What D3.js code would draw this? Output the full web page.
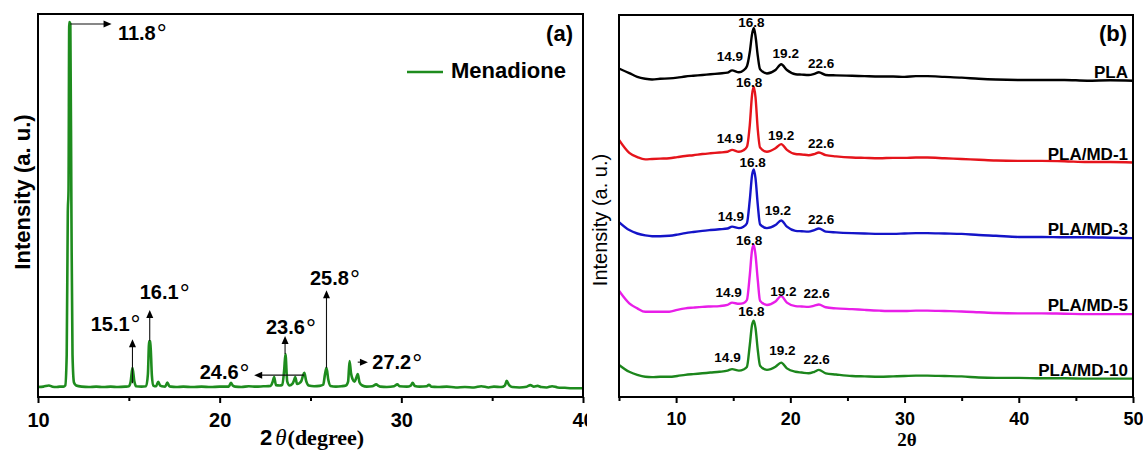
<!DOCTYPE html>
<html>
<head>
<meta charset="utf-8">
<script src="https://cdn.jsdelivr.net/npm/d3@7"></script>
<style>
  html, body { margin: 0; padding: 0; background: #fff; }
  svg { display: block; }
</style>
</head>
<body>
<svg id="chart" width="1143" height="451"></svg>
<script>
// ---------- Panel (a): menadione powder pattern ----------
const menadioneTheta = [
  10.0, 10.3, 10.6, 10.8, 11.0, 11.2, 11.4, 11.5, 11.58, 11.64, 11.68, 11.72, 11.78, 11.84, 11.9, 11.98, 12.1, 12.4,
  12.8, 13.2, 13.6, 14.0, 14.4, 14.8, 15.0, 15.1, 15.2, 15.3, 15.4, 15.7, 15.95, 16.05, 16.12, 16.18, 16.27, 16.35,
  16.5, 16.62, 16.72, 16.82, 17.0, 17.12, 17.22, 17.32, 17.6, 18.0, 18.5, 19.0, 19.5, 20.0, 20.5, 20.62, 20.72,
  20.85, 21.2, 21.6, 22.0, 22.4, 22.8, 22.92, 23.0, 23.1, 23.3, 23.45, 23.55, 23.62, 23.72, 23.85, 24.0, 24.08,
  24.16, 24.26, 24.38, 24.5, 24.58, 24.66, 24.76, 24.9, 25.2, 25.5, 25.7, 25.8, 25.88, 25.98, 26.1, 26.4, 26.7,
  26.95, 27.07, 27.15, 27.23, 27.32, 27.42, 27.52, 27.6, 27.7, 27.85, 28.1, 28.4, 28.62, 28.72, 28.85, 29.2,
  29.6, 29.78, 29.9, 30.3, 30.52, 30.62, 30.74, 31.0, 31.4, 31.52, 31.65, 32.0, 32.5, 33.0, 33.5, 34.0, 34.4,
  34.8, 35.1, 35.5, 35.7, 35.8, 35.92, 36.1, 36.5, 36.9, 37.1, 37.3, 37.5, 37.7, 38.0, 38.3, 38.6, 39.0, 39.4, 39.8, 40.0
];
const menadioneIntensity = [
  26, 27, 30, 27, 26, 27, 27, 30, 110, 480, 540, 979, 975, 480, 110, 38, 30, 27,
  26, 27, 26, 27, 26, 27, 28, 40, 76, 42, 28, 27, 28, 60, 146, 145, 55, 30,
  28, 40, 30, 28, 27, 38, 29, 27, 26, 27, 26, 27, 26, 27, 27, 37, 30,
  27, 26, 28, 27, 28, 29, 40, 52, 31, 30, 32, 70, 112, 40, 30, 34, 42,
  52, 34, 36, 42, 55, 63, 42, 30, 28, 29, 32, 60, 76, 45, 29, 27, 28,
  30, 40, 94, 62, 46, 40, 50, 60, 38, 30, 27, 28, 33, 30, 27, 26,
  28, 33, 28, 27, 30, 37, 29, 27, 28, 32, 27, 26, 27, 25, 26, 25, 28,
  25, 27, 26, 30, 42, 32, 26, 25, 27, 31, 27, 29, 26, 25, 28, 25, 24, 23, 23, 23
];

const thetaTicksA = [10, 15, 20, 25, 30, 35, 40];

// peak annotations: label, label anchor (theta, intensity), arrow from -> to
const peakLabelsA = [
  { text: "11.8", lx: 14.4, ly: 952, from: [11.78, 974], to: [14.05, 974] },
  { text: "15.1", lx: 12.9, ly: 192, from: [15.2, 36], to: [15.2, 151] },
  { text: "16.1", lx: 15.6, ly: 274, from: [16.15, 146], to: [16.15, 227] },
  { text: "23.6", lx: 22.55, ly: 182, from: [23.6, 112], to: [23.6, 159] },
  { text: "24.6", lx: 18.9, ly: 65, from: [24.65, 57], to: [21.9, 57] },
  { text: "25.8", lx: 24.97, ly: 310, from: [25.88, 76], to: [25.88, 279] },
  { text: "27.2", lx: 28.4, ly: 91, from: [27.6, 91], to: [28.16, 91] }
];

// ---------- Panel (b): PLA films ----------
const thetaTicksB = [5, 10, 15, 20, 25, 30, 35, 40, 45, 50];
const sampleNames = ["PLA", "PLA/MD-1", "PLA/MD-3", "PLA/MD-5", "PLA/MD-10"];
const sampleColors = ["#000000", "#e5141b", "#1414c8", "#e81ee8", "#1c861c"];

const thetaB = [5, 5.9, 6.6, 7.3, 7.9, 8.6, 9.4, 10.1, 10.8, 11.5, 12.3, 13.0, 13.8, 14.5, 14.9, 15.5, 15.9, 16.2,
  16.45, 16.65, 16.8, 16.95, 17.15, 17.35, 17.95, 18.7, 19.2, 19.7, 20.45, 21.0, 21.6, 22.1, 22.5, 23.1, 24.0,
  25.4, 26.5, 27.8, 29.0, 30.0, 31.0, 32.0, 33.5, 35.0, 36.5, 38.0, 40.0, 42.0, 44.0, 46.0, 48.0, 50.0];

const intensityPLA = [860, 848, 838, 833, 831, 833, 834, 836, 839, 841, 843, 845, 847, 849, 855, 850, 855, 866,
  903, 950, 966, 945, 893, 858, 847, 856, 871, 856, 845, 844, 843, 846, 850, 843, 842,
  841, 840, 839, 839, 838, 840, 840, 838, 836, 833, 831, 830, 830, 830, 828, 829, 828];
const intensityMD1 = [673, 639, 628, 622, 623, 624, 625, 628, 631, 633, 636, 638, 640, 642, 647, 642, 646, 655,
  712, 791, 812, 785, 700, 653, 642, 651, 662, 647, 636, 635, 633, 636, 640, 633, 630,
  627, 626, 625, 626, 626, 627, 627, 625, 623, 621, 619, 618, 618, 617, 615, 615, 614];
const intensityMD3 = [458, 437, 428, 423, 421, 421, 422, 425, 429, 432, 435, 437, 439, 441, 446, 442, 446, 455,
  516, 581, 596, 573, 503, 452, 442, 450, 462, 446, 435, 434, 433, 437, 441, 433, 431,
  429, 428, 427, 427, 428, 429, 429, 428, 427, 424, 422, 419, 419, 418, 418, 417, 416];
const intensityMD5 = [278, 245, 232, 223, 223, 223, 223, 228, 232, 234, 236, 237, 238, 241, 247, 244, 246, 254,
  319, 385, 398, 372, 306, 252, 241, 250, 264, 247, 238, 237, 236, 239, 242, 235, 232,
  230, 228, 226, 225, 225, 226, 226, 225, 224, 222, 220, 219, 219, 218, 217, 217, 217];
const intensityMD10 = [84, 66, 58, 53, 52, 53, 53, 55, 58, 60, 62, 64, 66, 69, 73, 69, 72, 79,
  136, 189, 200, 181, 123, 82, 71, 79, 90, 75, 66, 64, 62, 66, 71, 62, 59,
  55, 54, 53, 54, 55, 56, 56, 55, 54, 51, 50, 50, 49, 49, 48, 48, 48];
const sampleIntensities = [intensityPLA, intensityMD1, intensityMD3, intensityMD5, intensityMD10];

// peak labels of the films: text of each labelled reflection and where its text sits
const peakTextsB = ["14.9", "16.8", "19.2", "22.6"];
const peakLabelPosB = [
  // [theta, intensity] of each label centre, per sample
  [[14.7, 891], [16.6, 981], [19.6, 900], [22.7, 875]],
  [[14.7, 677], [16.4, 825], [19.2, 686], [22.7, 664]],
  [[14.8, 474], [16.7, 616], [18.9, 488], [22.7, 465]],
  [[14.6, 274], [16.4, 411], [19.4, 276], [22.3, 271]],
  [[14.5, 104], [16.6, 226], [19.3, 123], [22.3, 99]]
];

// ---------- drawing ----------
const svg = d3.select("#chart");
const sansFont = "'Liberation Sans', Arial, sans-serif";
const serifFont = "'Liberation Serif', 'Times New Roman', serif";

// Panel (a) geometry
const boxA = { left: 38, right: 583, top: 14, bottom: 397 };
const xA = d3.scaleLinear().domain([10, 40]).range([boxA.left, boxA.right]);
const yA = d3.scaleLinear().domain([0, 1000]).range([boxA.bottom, boxA.top]);

const gA = svg.append("g");
const defs = svg.append("defs");
defs.append("clipPath").attr("id", "clipA").append("rect")
  .attr("x", boxA.left).attr("y", boxA.top)
  .attr("width", boxA.right - boxA.left).attr("height", boxA.bottom - boxA.top);

const menadione = menadioneTheta.map((t, i) => [t, menadioneIntensity[i]]);
const lineA = d3.line().x(d => xA(d[0])).y(d => yA(d[1])).curve(d3.curveMonotoneX);

gA.append("path")
  .datum(menadione)
  .attr("clip-path", "url(#clipA)")
  .attr("fill", "none")
  .attr("stroke", "#1e8c1e")
  .attr("stroke-width", 2.6)
  .attr("stroke-linejoin", "round")
  .attr("d", lineA);

// x axis (a)
const axisA = gA.append("g")
  .attr("transform", `translate(0,${boxA.bottom})`)
  .call(d3.axisBottom(xA).tickValues(thetaTicksA)
    .tickFormat(d => d % 10 === 0 ? d : "").tickSize(6).tickPadding(10));
axisA.select(".domain").remove();
axisA.selectAll(".tick line").attr("stroke", "#000").attr("stroke-width", 2)
  .attr("y2", d => d % 10 === 0 ? 6 : 4);
axisA.selectAll(".tick text")
  .attr("font-family", sansFont).attr("font-weight", "bold").attr("font-size", 20).attr("fill", "#000");

// frame (a)
gA.append("rect")
  .attr("x", boxA.left).attr("y", boxA.top)
  .attr("width", boxA.right - boxA.left).attr("height", boxA.bottom - boxA.top)
  .attr("fill", "none").attr("stroke", "#000").attr("stroke-width", 2);

// arrow heads
function arrowHead(g, x1, y1, x2, y2, len, half) {
  const a = Math.atan2(y2 - y1, x2 - x1);
  const bx = x2 - len * Math.cos(a), by = y2 - len * Math.sin(a);
  const px = -Math.sin(a) * half, py = Math.cos(a) * half;
  g.append("path")
    .attr("d", `M${x2},${y2}L${bx + px},${by + py}L${bx - px},${by - py}Z`)
    .attr("fill", "#000");
}

peakLabelsA.forEach(p => {
  const x1 = xA(p.from[0]), y1 = yA(p.from[1]);
  const x2 = xA(p.to[0]), y2 = yA(p.to[1]);
  const a = Math.atan2(y2 - y1, x2 - x1);
  gA.append("line")
    .attr("x1", x1).attr("y1", y1)
    .attr("x2", x2 - 6 * Math.cos(a)).attr("y2", y2 - 6 * Math.sin(a))
    .attr("stroke", "#111").attr("stroke-width", 1.1);
  arrowHead(gA, x1, y1, x2, y2, 8, 3.5);
  const t = gA.append("text")
    .attr("x", xA(p.lx)).attr("y", yA(p.ly))
    .attr("dy", "0.36em")
    .attr("font-family", sansFont).attr("font-size", 20).attr("font-weight", "bold")
    .attr("fill", "#000");
  t.append("tspan").text(p.text);
  t.append("tspan").attr("font-weight", "normal").attr("font-size", 25).attr("dx", 1).attr("dy", "0.1em").text("°");
});

// panel letter and legend (a)
gA.append("text").attr("x", 573).attr("y", 33).attr("dy", "0.36em")
  .attr("text-anchor", "end")
  .attr("font-family", sansFont).attr("font-size", 22).attr("font-weight", "bold").text("(a)");
gA.append("line").attr("x1", 407).attr("x2", 443).attr("y1", 72).attr("y2", 72)
  .attr("stroke", "#1e8c1e").attr("stroke-width", 2.6);
gA.append("text").attr("x", 451).attr("y", 70).attr("dy", "0.36em")
  .attr("font-family", sansFont).attr("font-size", 22).attr("font-weight", "bold").text("Menadione");

// axis titles (a)
gA.append("text")
  .attr("transform", "translate(22,192) rotate(-90)")
  .attr("text-anchor", "middle").attr("dy", "0.36em")
  .attr("font-family", sansFont).attr("font-size", 22).attr("font-weight", "bold")
  .text("Intensity (a. u.)");
const xtA = gA.append("text").attr("x", 260).attr("y", 445);
xtA.append("tspan").attr("font-family", sansFont).attr("font-weight", "bold").attr("font-size", 22).text("2");
xtA.append("tspan").attr("font-family", serifFont).attr("font-style", "italic").attr("font-size", 23).attr("dx", 3).text("θ");
xtA.append("tspan").attr("font-family", serifFont).attr("font-weight", "bold").attr("font-size", 22).attr("dx", 1).text("(degree)");

// ---------- Panel (b) ----------
const boxB = { left: 619, right: 1133, top: 15, bottom: 397 };
const xB = d3.scaleLinear().domain([5, 50]).range([boxB.left, boxB.right]);
const yB = d3.scaleLinear().domain([0, 1000]).range([boxB.bottom, boxB.top]);

const gB = svg.append("g");
gB.append("rect").attr("x", 587).attr("y", 0).attr("width", 1143 - 587).attr("height", 451).attr("fill", "#fff");

defs.append("clipPath").attr("id", "clipB").append("rect")
  .attr("x", boxB.left).attr("y", boxB.top)
  .attr("width", boxB.right - boxB.left).attr("height", boxB.bottom - boxB.top);

const lineB = d3.line().x(d => xB(d[0])).y(d => yB(d[1])).curve(d3.curveMonotoneX);

sampleNames.forEach((name, i) => {
  const pts = thetaB.map((t, j) => [t, sampleIntensities[i][j]]);
  gB.append("path")
    .datum(pts)
    .attr("clip-path", "url(#clipB)")
    .attr("fill", "none")
    .attr("stroke", sampleColors[i])
    .attr("stroke-width", 2.4)
    .attr("stroke-linejoin", "round")
    .attr("d", lineB);

  // sample name at the right end of each pattern
  const last = sampleIntensities[i][sampleIntensities[i].length - 1];
  gB.append("text")
    .attr("x", 1128).attr("y", yB(last) - 9)
    .attr("dy", "0.36em").attr("text-anchor", "end")
    .attr("font-family", sansFont).attr("font-size", 17).attr("font-weight", "bold")
    .text(name);

  peakTextsB.forEach((txt, k) => {
    const [lt, li] = peakLabelPosB[i][k];
    gB.append("text")
      .attr("x", xB(lt)).attr("y", yB(li))
      .attr("dy", "0.36em").attr("text-anchor", "middle")
      .attr("font-family", sansFont).attr("font-size", 13.5).attr("font-weight", "bold")
      .text(txt);
  });
});

// x axis (b)
const axisB = gB.append("g")
  .attr("transform", `translate(0,${boxB.bottom})`)
  .call(d3.axisBottom(xB).tickValues(thetaTicksB)
    .tickFormat(d => d % 10 === 0 ? d : "").tickSize(6).tickPadding(9));
axisB.select(".domain").remove();
axisB.selectAll(".tick line").attr("stroke", "#000").attr("stroke-width", 2)
  .attr("y2", d => d % 10 === 0 ? 6 : 4);
axisB.selectAll(".tick text")
  .attr("font-family", sansFont).attr("font-weight", "bold").attr("font-size", 18).attr("fill", "#000");

// frame (b)
gB.append("rect")
  .attr("x", boxB.left).attr("y", boxB.top)
  .attr("width", boxB.right - boxB.left).attr("height", boxB.bottom - boxB.top)
  .attr("fill", "none").attr("stroke", "#000").attr("stroke-width", 2);

gB.append("text").attr("x", 1127).attr("y", 33).attr("dy", "0.36em")
  .attr("text-anchor", "end")
  .attr("font-family", sansFont).attr("font-size", 22).attr("font-weight", "bold").text("(b)");

gB.append("text")
  .attr("transform", "translate(600,220) rotate(-90)")
  .attr("text-anchor", "middle").attr("dy", "0.36em")
  .attr("font-family", sansFont).attr("font-size", 20)
  .text("Intensity (a. u.)");
gB.append("text").attr("x", 907).attr("y", 446).attr("text-anchor", "middle")
  .attr("font-family", serifFont).attr("font-weight", "bold").attr("font-size", 19)
  .text("2θ");
</script>
</body>
</html>
